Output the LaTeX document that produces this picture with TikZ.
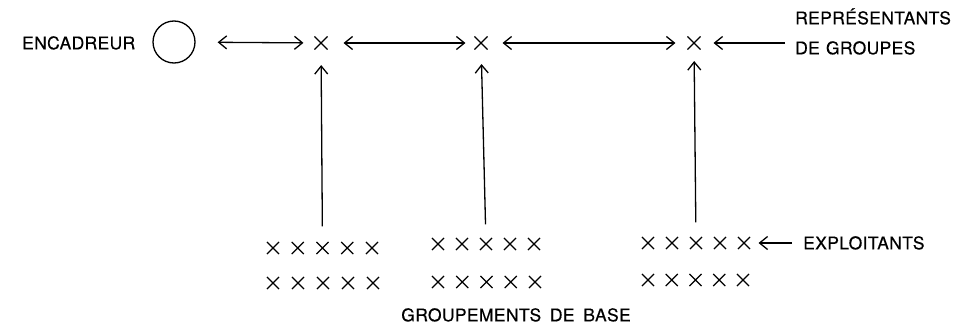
\documentclass[tikz,border=0pt]{standalone}
\usepackage{fontspec}
\setmainfont[LetterSpace=2,FakeBold=0.4]{TeX Gyre Heros}
\usetikzlibrary{arrows.meta,shapes.misc}
\begin{document}
\begin{tikzpicture}[x=1pt,y=-1pt,
  lbl/.style={inner sep=0pt,font=\fontsize{17.5}{21}\selectfont,text height=12.6pt,text depth=0pt},
  xmark/.style={shape=cross out,draw,minimum size=11pt,inner sep=0pt,line width=1.1pt},
  topx/.style={xmark,minimum size=12pt},
  arr/.style={line width=1.3pt,-{Straight Barb[length=8pt,width=13pt,line width=1.3pt]}},
  darr/.style={line width=1.3pt,{Straight Barb[length=8pt,width=13pt,line width=1.3pt]}-{Straight Barb[length=8pt,width=13pt,line width=1.3pt]}}]
\useasboundingbox (0,0) rectangle (968,324);
% top row
\node[lbl,anchor=west] (encl) at (22,43) {ENCADREUR};
\node[draw,circle,line width=1.3pt,minimum size=42pt,inner sep=0pt] (enc) at (174,42) {};
\node[topx] (t1) at (321,43) {};
\node[topx] (t2) at (481,43) {};
\node[topx] (t3) at (694,43) {};
\node[lbl,anchor=west] (rep1) at (795,18) {REPRÉSENTANTS};
\node[lbl,anchor=west] (rep2) at (795,48) {DE\hspace{0.35em}GROUPES};
\draw[darr,shorten <=22pt,shorten >=11pt] (enc) -- (t1);
\draw[darr,shorten <=16pt,shorten >=9pt] (t1) -- (t2);
\draw[darr,shorten <=15pt,shorten >=12pt] (t2) -- (t3);
\draw[arr,shorten <=10pt,shorten >=13pt] (rep2.west |- t3) -- (t3);
% base groups
\foreach \i in {1,...,5} {
  \node[xmark] (a\i) at ({273+24.75*(\i-1)},248) {};
  \node[xmark] (b\i) at ({273+25*(\i-1)},283) {};
  \node[xmark] (c\i) at ({438+24*(\i-1)},244) {};
  \node[xmark] (d\i) at ({438+24.25*(\i-1)},282) {};
  \node[xmark] (e\i) at ({648+24*(\i-1)},243) {};
  \node[xmark] (f\i) at ({648+23.75*(\i-1)},280) {};
}
\draw[arr,shorten <=15.5pt,shorten >=15.5pt] (a3) -- (t1);
\draw[arr,shorten <=13.5pt,shorten >=14.5pt] (c3) -- (t2);
\draw[arr,shorten <=14.5pt,shorten >=11.5pt] (e3) -- (t3);
\node[lbl,anchor=west] (expl) at (803,243) {EXPLOITANTS};
\draw[arr,shorten <=11pt,shorten >=8.5pt] (expl.west) -- (e5);
\node[lbl] (grp) at (516,315) {GROUPEMENTS\hspace{0.5em}DE\hspace{0.5em}BASE};
\end{tikzpicture}
\end{document}
